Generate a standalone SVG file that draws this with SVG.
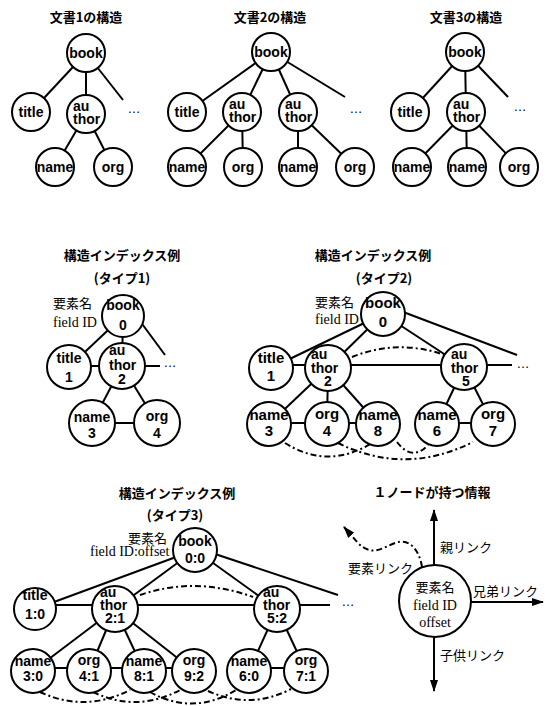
<svg xmlns="http://www.w3.org/2000/svg" width="551" height="706" viewBox="0 0 551 706">
<defs>
<style>
.n circle{fill:#fff;stroke:#000;stroke-width:2}
.n text{font-family:"Liberation Sans",Arial,sans-serif;font-weight:bold;font-size:14px;text-anchor:middle;fill:#000}
.n text.s{text-anchor:start}
.b text{font-size:15px}
.c line,.c path{stroke:#000;stroke-width:2;fill:none}
.c .dd{stroke-dasharray:6 3 2 3}
.ttl{font-family:"Noto Sans CJK JP",sans-serif;font-weight:bold;font-size:13px;text-anchor:middle}
.jl{font-family:"Noto Sans CJK JP",sans-serif;font-size:13px}
.sf{font-family:"Liberation Serif","Times New Roman",serif;font-size:14px}
.dots{font-family:"Liberation Sans",Arial,sans-serif;font-size:13px;text-anchor:middle}
.n text.sf{font-family:"Liberation Serif","Times New Roman",serif;font-weight:normal;font-size:14px}
.n text.jl{font-family:"Noto Sans CJK JP",sans-serif;font-weight:normal;font-size:13px}
</style>
<marker id="ah" viewBox="0 0 12 8" refX="11" refY="4" markerWidth="12" markerHeight="8" markerUnits="userSpaceOnUse" orient="auto"><path d="M0,0 L12,4 L0,8 z" fill="#000"/></marker>
</defs>
<rect width="551" height="706" fill="#fff"/>

<g id="titles">
<text class="ttl" x="86" y="22">文書1の構造</text>
<text class="ttl" x="270" y="22">文書2の構造</text>
<text class="ttl" x="466" y="22">文書3の構造</text>
<text class="ttl" x="122" y="260">構造インデックス例</text>
<text class="ttl" x="122" y="283">(タイプ1)</text>
<text class="ttl" x="373" y="260">構造インデックス例</text>
<text class="ttl" x="384" y="283">(タイプ2)</text>
<text class="ttl" x="177" y="498">構造インデックス例</text>
<text class="ttl" x="175" y="520">(タイプ3)</text>
<text class="ttl" x="432" y="497">１ノードが持つ情報</text>
</g>

<g id="labels">
<text class="jl" x="53" y="308" font-size="14">要素名</text>
<text class="sf" x="53" y="327">field ID</text>
<text class="jl" x="315" y="307" font-size="14">要素名</text>
<text class="sf" x="315" y="324">field ID</text>
<text class="jl" x="128" y="543">要素名</text>
<text class="sf" x="90" y="556" font-size="13.5">field ID:offset</text>
<text class="jl" x="440" y="552">親リンク</text>
<text class="jl" x="473" y="596">兄弟リンク</text>
<text class="jl" x="440" y="660">子供リンク</text>
<text class="jl" x="348" y="573">要素リンク</text>
<text class="dots" x="134" y="113">…</text>
<text class="dots" x="356" y="113">…</text>
<text class="dots" x="520" y="111">…</text>
<text class="dots" x="170" y="367">…</text>
<text class="dots" x="523" y="368">…</text>
<text class="dots" x="348" y="606">…</text>
</g>

<g id="connectors" class="c">
<line x1="86" y1="53" x2="31" y2="112"/>
<line x1="86" y1="53" x2="86" y2="114"/>
<line x1="86" y1="53" x2="123" y2="100"/>
<line x1="86" y1="114" x2="55" y2="167"/>
<line x1="86" y1="114" x2="113" y2="167"/>
<line x1="271" y1="52" x2="187" y2="112"/>
<line x1="271" y1="52" x2="242" y2="112"/>
<line x1="271" y1="52" x2="298" y2="112"/>
<line x1="271" y1="52" x2="345" y2="97"/>
<line x1="242" y1="112" x2="187" y2="167"/>
<line x1="242" y1="112" x2="243" y2="167"/>
<line x1="298" y1="112" x2="298" y2="167"/>
<line x1="298" y1="112" x2="355" y2="167"/>
<line x1="465" y1="52" x2="410" y2="112"/>
<line x1="465" y1="52" x2="466" y2="112"/>
<line x1="465" y1="52" x2="508" y2="97"/>
<line x1="466" y1="112" x2="412" y2="167"/>
<line x1="466" y1="112" x2="467" y2="167"/>
<line x1="466" y1="112" x2="519" y2="167"/>

<line x1="123" y1="316" x2="69" y2="367"/>
<line x1="123" y1="316" x2="122" y2="366"/>
<line x1="137" y1="317" x2="165" y2="355"/>
<line x1="69" y1="366" x2="160" y2="366"/>
<line x1="122" y1="366" x2="92" y2="423"/>
<line x1="122" y1="366" x2="157" y2="423"/>
<line x1="92" y1="423" x2="157" y2="423"/>

<line x1="383" y1="314" x2="271" y2="368"/>
<line x1="383" y1="314" x2="328" y2="368"/>
<line x1="383" y1="314" x2="464" y2="367"/>
<line x1="390" y1="307" x2="517" y2="355"/>
<line x1="271" y1="365" x2="512" y2="365"/>
<path class="dd" d="M352,357 Q400,338 447,356"/>
<line x1="328" y1="368" x2="269" y2="424"/>
<line x1="328" y1="368" x2="327" y2="424"/>
<line x1="328" y1="368" x2="378" y2="424"/>
<line x1="464" y1="367" x2="437" y2="424"/>
<line x1="464" y1="367" x2="493" y2="424"/>
<line x1="269" y1="423" x2="378" y2="423"/>
<line x1="437" y1="423" x2="493" y2="423"/>
<path class="dd" d="M285,443 Q328,470 372,443"/>
<path class="dd" d="M397,442 Q412,462 428,445"/>
<path class="dd" d="M338,443 Q405,476 473,442"/>

<line x1="195" y1="550" x2="35" y2="609"/>
<line x1="195" y1="550" x2="115" y2="609"/>
<line x1="195" y1="550" x2="277" y2="609"/>
<line x1="200" y1="549" x2="338" y2="595"/>
<line x1="35" y1="605" x2="330" y2="605"/>
<path class="dd" d="M140,595 Q195,576 253,597"/>
<line x1="115" y1="609" x2="33" y2="671"/>
<line x1="115" y1="609" x2="89" y2="671"/>
<line x1="115" y1="609" x2="144" y2="671"/>
<line x1="115" y1="609" x2="194" y2="671"/>
<line x1="277" y1="609" x2="249" y2="671"/>
<line x1="277" y1="609" x2="306" y2="671"/>
<line x1="33" y1="668" x2="194" y2="668"/>
<line x1="249" y1="668" x2="306" y2="668"/>
<path class="dd" d="M40,692 Q85,713 130,690"/>
<path class="dd" d="M93,692 Q137,713 180,690"/>
<path class="dd" d="M150,692 Q193,716 236,690"/>
<path class="dd" d="M208,691 Q250,710 291,689"/>

<path class="dd" d="M422,567 C419,548 408,538 395,543 C382,548 372,557 358,543 L344,527" marker-end="url(#ah)"/>
<line x1="434" y1="565" x2="434" y2="510" marker-end="url(#ah)"/>
<line x1="434" y1="637" x2="434" y2="691" marker-end="url(#ah)"/>
<line x1="471" y1="602" x2="543" y2="602" marker-end="url(#ah)"/>
</g>

<g id="doc1">
<g id="d1-book" class="n"><circle cx="86" cy="53" r="19"/><text x="86" y="58">book</text></g>
<g id="d1-title" class="n"><circle cx="31" cy="112" r="19"/><text x="31" y="117">title</text></g>
<g id="d1-author" class="n"><circle cx="86" cy="114" r="19"/><text class="s" x="73" y="111">au</text><text class="s" x="73" y="124">thor</text></g>
<g id="d1-name" class="n"><circle cx="55" cy="167" r="19"/><text x="55" y="172">name</text></g>
<g id="d1-org" class="n"><circle cx="113" cy="167" r="19"/><text x="113" y="172">org</text></g>
</g>

<g id="doc2">
<g id="d2-book" class="n"><circle cx="271" cy="52" r="19"/><text x="271" y="57">book</text></g>
<g id="d2-title" class="n"><circle cx="187" cy="112" r="19"/><text x="187" y="117">title</text></g>
<g id="d2-author1" class="n"><circle cx="242" cy="112" r="19"/><text class="s" x="229" y="109">au</text><text class="s" x="229" y="122">thor</text></g>
<g id="d2-author2" class="n"><circle cx="298" cy="112" r="19"/><text class="s" x="285" y="109">au</text><text class="s" x="285" y="122">thor</text></g>
<g id="d2-name1" class="n"><circle cx="187" cy="167" r="19"/><text x="187" y="172">name</text></g>
<g id="d2-org1" class="n"><circle cx="243" cy="167" r="19"/><text x="243" y="172">org</text></g>
<g id="d2-name2" class="n"><circle cx="298" cy="167" r="19"/><text x="298" y="172">name</text></g>
<g id="d2-org2" class="n"><circle cx="355" cy="167" r="19"/><text x="355" y="172">org</text></g>
</g>

<g id="doc3">
<g id="d3-book" class="n"><circle cx="465" cy="52" r="19"/><text x="465" y="57">book</text></g>
<g id="d3-title" class="n"><circle cx="410" cy="112" r="19"/><text x="410" y="117">title</text></g>
<g id="d3-author" class="n"><circle cx="466" cy="112" r="19"/><text class="s" x="453" y="109">au</text><text class="s" x="453" y="122">thor</text></g>
<g id="d3-name1" class="n"><circle cx="412" cy="167" r="19"/><text x="412" y="172">name</text></g>
<g id="d3-name2" class="n"><circle cx="467" cy="167" r="19"/><text x="467" y="172">name</text></g>
<g id="d3-org" class="n"><circle cx="519" cy="167" r="19"/><text x="519" y="172">org</text></g>
</g>

<g id="type1">
<g id="t1-book" class="n"><circle cx="123" cy="316" r="21"/><text x="123" y="310">book</text><text x="123" y="330">0</text></g>
<g id="t1-title" class="n"><circle cx="69" cy="367" r="22"/><text x="69" y="363">title</text><text x="69" y="382">1</text></g>
<g id="t1-author" class="n"><circle cx="122" cy="366" r="23"/><text class="s" x="109" y="355">au</text><text class="s" x="109" y="370">thor</text><text x="122" y="384">2</text></g>
<g id="t1-name" class="n"><circle cx="92" cy="423" r="23"/><text x="92" y="422">name</text><text x="92" y="438">3</text></g>
<g id="t1-org" class="n"><circle cx="157" cy="423" r="23"/><text x="157" y="421">org</text><text x="157" y="438">4</text></g>
</g>

<g id="type2">
<g id="t2-book" class="n b"><circle cx="383" cy="314" r="22"/><text x="383" y="308">book</text><text x="383" y="327">0</text></g>
<g id="t2-title" class="n b"><circle cx="271" cy="368" r="22"/><text x="271" y="363">title</text><text x="271" y="381">1</text></g>
<g id="t2-author2" class="n"><circle cx="328" cy="368" r="23"/><text class="s" x="311" y="359">au</text><text class="s" x="311" y="373" font-size="15">thor</text><text x="328" y="386">2</text></g>
<g id="t2-author5" class="n"><circle cx="464" cy="367" r="23"/><text class="s" x="451" y="359">au</text><text class="s" x="451" y="373" font-size="15">thor</text><text x="466" y="386">5</text></g>
<g id="t2-name3" class="n b"><circle cx="269" cy="424" r="22"/><text x="269" y="420">name</text><text x="269" y="436">3</text></g>
<g id="t2-org4" class="n b"><circle cx="327" cy="424" r="22"/><text x="327" y="419">org</text><text x="327" y="436">4</text></g>
<g id="t2-name8" class="n b"><circle cx="378" cy="424" r="22"/><text x="378" y="420">name</text><text x="378" y="436">8</text></g>
<g id="t2-name6" class="n b"><circle cx="437" cy="424" r="22"/><text x="437" y="420">name</text><text x="437" y="436">6</text></g>
<g id="t2-org7" class="n b"><circle cx="493" cy="424" r="22"/><text x="493" y="419">org</text><text x="493" y="436">7</text></g>
</g>

<g id="type3">
<g id="t3-book" class="n"><circle cx="195" cy="550" r="22"/><text x="195" y="546">book</text><text x="195" y="563">0:0</text></g>
<g id="t3-title" class="n"><circle cx="35" cy="609" r="21"/><text x="35" y="600">title</text><text x="35" y="619">1:0</text></g>
<g id="t3-author2" class="n"><circle cx="115" cy="609" r="23"/><text class="s" x="100" y="597">au</text><text class="s" x="100" y="610" font-size="15">thor</text><text x="115" y="623">2:1</text></g>
<g id="t3-author5" class="n"><circle cx="277" cy="609" r="23"/><text class="s" x="263" y="597">au</text><text class="s" x="263" y="610" font-size="15">thor</text><text x="277" y="623">5:2</text></g>
<g id="t3-name3" class="n"><circle cx="33" cy="671" r="22"/><text x="33" y="666">name</text><text x="33" y="681">3:0</text></g>
<g id="t3-org4" class="n"><circle cx="89" cy="671" r="22"/><text x="89" y="665">org</text><text x="89" y="681">4:1</text></g>
<g id="t3-name8" class="n"><circle cx="144" cy="671" r="22"/><text x="144" y="666">name</text><text x="144" y="681">8:1</text></g>
<g id="t3-org9" class="n"><circle cx="194" cy="671" r="22"/><text x="194" y="665">org</text><text x="194" y="681">9:2</text></g>
<g id="t3-name6" class="n"><circle cx="249" cy="671" r="22"/><text x="249" y="666">name</text><text x="249" y="681">6:0</text></g>
<g id="t3-org7" class="n"><circle cx="306" cy="671" r="22"/><text x="306" y="665">org</text><text x="306" y="681">7:1</text></g>
</g>

<g id="info-node" class="n"><circle cx="435" cy="601" r="36"/><text class="jl" x="435" y="592">要素名</text><text class="sf" x="435" y="610">field ID</text><text class="sf" x="435" y="627">offset</text></g>
</svg>
